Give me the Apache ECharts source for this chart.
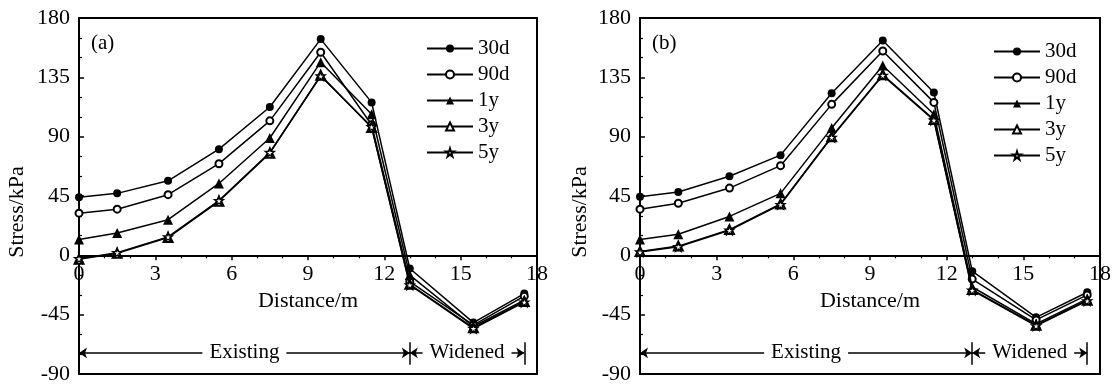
<!DOCTYPE html>
<html><head><meta charset="utf-8">
<script src="https://cdn.jsdelivr.net/npm/echarts@6/dist/echarts.min.js"></script>
<style>html,body{margin:0;padding:0;background:#fff;}#c{width:1115px;height:386px;}</style>
</head><body><div id="c"></div>
<script>
// ---- data ----
const distance = [0, 1.5, 3.5, 5.5, 7.5, 9.5, 11.5, 13, 15.5, 17.5];
const seriesNames = ['30d', '90d', '1y', '3y', '5y'];
const xTicks = [0, 3, 6, 9, 12, 15, 18];
const yTicks = [-90, -45, 0, 45, 90, 135, 180];
// panel (a)
const a30d = [44, 47, 56.5, 80.5, 112.5, 164, 116, -10, -51, -29];
const a90d = [32, 35, 46, 69.5, 102, 154, 99, -20, -53, -31];
const a1y  = [12, 17, 27, 54.5, 89, 146.5, 107, -15, -54, -34];
const a3y  = [-3, 1.5, 13.5, 41, 77.5, 136.5, 97, -22, -55, -35];
const a5y  = [-2.5, 2, 14, 41.5, 78, 136, 97.5, -22.5, -55.5, -35.5];
// panel (b)
const b30d = [44.5, 48, 60, 76, 123, 163, 123.5, -12, -47, -28];
const b90d = [35, 39.5, 51, 68, 114.5, 155, 116, -18, -49, -30];
const b1y  = [12, 16, 29.5, 47, 96.5, 144, 107, -24, -52, -33];
const b3y  = [3, 7, 19.5, 39, 90, 137, 103, -26, -53, -34];
const b5y  = [2.5, 6.5, 19, 38.5, 89.5, 136.5, 102.5, -26.5, -53.5, -34.5];
// zone annotation
const zoneNames = ['Existing', 'Widened'];
const zoneBounds = [0, 13, 17.5];
const zoneY = -74;
const zoneBar = [-66, -83];
const panelLabels = ['(a)', '(b)'];

// ---- styling ----
const FONT = '"Liberation Serif", "Times New Roman", serif';
const starPath = 'path://M50,0 L61,35 L98,35 L68,57 L79,91 L50,70 L21,91 L32,57 L2,35 L39,35 Z';
const symbolDefs = {
  '30d': {symbol: 'circle', size: 8, item: {color: '#000'}},
  '90d': {symbol: 'emptyCircle', size: 7, item: {color: '#000', borderWidth: 1.5}},
  '1y':  {symbol: 'triangle', size: 10, item: {color: '#000'}},
  '3y':  {symbol: 'emptyTriangle', size: 9, item: {color: '#000', borderWidth: 1.5}},
  '5y':  {symbol: starPath, size: 9, item: {color: '#fff', borderColor: '#000', borderWidth: 1.3}}
};
const panels = [[a30d, a90d, a1y, a3y, a5y], [b30d, b90d, b1y, b3y, b5y]];

function zoneMarkLine() {
  const d = [];
  for (let i = 0; i < zoneNames.length; i++) {
    d.push([{name: zoneNames[i], coord: [zoneBounds[i], zoneY]}, {coord: [zoneBounds[i + 1], zoneY]}]);
  }
  for (let i = 1; i < zoneBounds.length; i++) {
    d.push([{coord: [zoneBounds[i], zoneBar[0]], symbol: 'none', label: {show: false}},
            {coord: [zoneBounds[i], zoneBar[1]], symbol: 'none'}]);
  }
  return {
    silent: true, animation: false,
    symbol: ['arrow', 'arrow'], symbolSize: 8,
    lineStyle: {color: '#000', width: 1.5, type: 'solid'},
    label: {show: true, position: 'middle', formatter: p => p.name, color: '#000',
            fontFamily: FONT, fontSize: 21, backgroundColor: '#fff', padding: [0, 7],
            verticalAlign: 'middle', distance: 0},
    emphasis: {disabled: true},
    data: d
  };
}

const series = [];
panels.forEach((vals, pi) => {
  vals.forEach((arr, si) => {
    const name = seriesNames[si];
    const def = symbolDefs[name];
    const s = {
      name: name, type: 'line', xAxisIndex: pi, yAxisIndex: pi,
      data: distance.map((x, k) => [x, arr[k]]),
      symbol: def.symbol, symbolSize: def.size, showAllSymbol: true,
      lineStyle: {color: '#000', width: 1.5},
      itemStyle: def.item,
      emphasis: {disabled: true},
      z: 3 + si
    };
    if (si === 4) s.markLine = zoneMarkLine();
    series.push(s);
  });
});

const GRID_TOP = 18, GRID_H = 356;
const zeroOffset = -GRID_H * (0 - yTicks[0]) / (yTicks[yTicks.length - 1] - yTicks[0]);
const gridDefs = [{left: 79, width: 458}, {left: 640, width: 460}];
const grids = gridDefs.map(g => ({left: g.left, width: g.width, top: GRID_TOP, height: GRID_H,
  show: true, borderColor: '#000', borderWidth: 2, backgroundColor: 'transparent'}));

const xAxes = gridDefs.map((g, i) => ({
  type: 'value', gridIndex: i, min: xTicks[0], max: xTicks[xTicks.length - 1], interval: 3,
  position: 'bottom', offset: zeroOffset,
  name: 'Distance/m', nameLocation: 'middle', nameGap: 34,
  nameTextStyle: {fontFamily: FONT, fontSize: 22, color: '#000'},
  axisLine: {onZero: false, lineStyle: {color: '#000', width: 2}},
  axisTick: {show: true, inside: false, length: 5, lineStyle: {color: '#000', width: 1.5}},
  minorTick: {show: true, splitNumber: 3, length: 3, lineStyle: {color: '#000', width: 1.2}},
  axisLabel: {fontFamily: FONT, fontSize: 22, color: '#000', margin: 8},
  splitLine: {show: false}
}));
const yAxes = gridDefs.map((g, i) => ({
  type: 'value', gridIndex: i, min: yTicks[0], max: yTicks[yTicks.length - 1], interval: 45,
  axisLine: {show: true, onZero: false, lineStyle: {color: '#000', width: 2}},
  axisTick: {show: true, inside: true, length: 5, lineStyle: {color: '#000', width: 1.5}},
  minorTick: {show: true, splitNumber: 3, length: 3, lineStyle: {color: '#000', width: 1.2}},
  axisLabel: {fontFamily: FONT, fontSize: 22, color: '#000', margin: 9},
  splitLine: {show: false}
}));

const legendBase = {
  orient: 'vertical', data: seriesNames, itemWidth: 46, itemHeight: 10, itemGap: 5,
  selectedMode: false, padding: 0,
  textStyle: {fontFamily: FONT, fontSize: 21, color: '#000', lineHeight: 21}
};

const graphic = [
  {type: 'text', left: 91, top: 33, style: {text: panelLabels[0], font: '21px ' + FONT, fill: '#000'}},
  {type: 'text', left: 652, top: 33, style: {text: panelLabels[1], font: '21px ' + FONT, fill: '#000'}},
  {type: 'text', x: 17, y: 212, rotation: Math.PI / 2,
   style: {text: 'Stress/kPa', font: '22px ' + FONT, fill: '#000', align: 'center', verticalAlign: 'middle'}},
  {type: 'text', x: 580, y: 212, rotation: Math.PI / 2,
   style: {text: 'Stress/kPa', font: '22px ' + FONT, fill: '#000', align: 'center', verticalAlign: 'middle'}}
];

const chart = echarts.init(document.getElementById('c'), null, {renderer: 'canvas'});
chart.setOption({
  animation: false,
  backgroundColor: '#fff',
  grid: grids, xAxis: xAxes, yAxis: yAxes,
  legend: [Object.assign({left: 426, top: 38}, legendBase), Object.assign({left: 993, top: 41}, legendBase)],
  graphic: graphic,
  series: series
});
</script></body></html>
